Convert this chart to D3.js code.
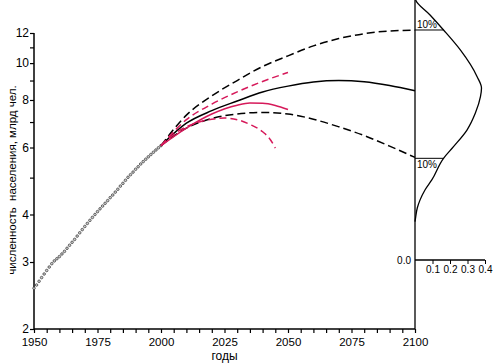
<!DOCTYPE html>
<html><head><meta charset="utf-8">
<script src="https://cdn.jsdelivr.net/npm/d3@7"></script>
<style>
body{margin:0;background:#fff;}
text{font-family:"Liberation Sans",Arial,sans-serif;fill:#000;}
</style></head>
<body><svg id="c" width="500" height="364"></svg>
<script>
// historical data 1950-2000 (billions)
const histYears = d3.range(1950, 2001);
const histValues = [2.56,2.61,2.67,2.73,2.79,2.85,2.91,2.97,3.02,3.06,3.10,3.15,3.20,3.26,3.32,3.38,3.44,3.51,3.58,3.65,3.72,3.79,3.86,3.93,4.00,4.07,4.14,4.21,4.28,4.35,4.43,4.50,4.58,4.66,4.75,4.83,4.92,5.01,5.09,5.17,5.26,5.34,5.43,5.51,5.59,5.67,5.75,5.83,5.91,5.99,6.07];

// black projections
const projYears = [2000,2010,2020,2030,2040,2050,2060,2070,2080,2090,2100];
const blackUpper = [6.07,7.3,8.2,9.0,9.8,10.45,11.1,11.6,11.95,12.15,12.2];
const blackMedian = [6.07,6.95,7.5,7.95,8.4,8.7,8.92,9.0,8.93,8.73,8.46];
const blackLower = [6.07,6.75,7.15,7.35,7.42,7.35,7.12,6.8,6.45,6.05,5.65];

// red projections
const redUpperYears = [2000,2010,2020,2030,2040,2050];
const redUpper = [6.07,7.1,7.8,8.4,8.95,9.45];
const redMedianYears = [2000,2010,2020,2030,2035,2040,2045,2050];
const redMedian = [6.07,6.75,7.35,7.75,7.85,7.84,7.74,7.55];
const redLowerYears = [2000,2005,2010,2015,2020,2025,2030,2035,2040,2043,2045];
const redLower = [6.07,6.5,6.8,7.0,7.12,7.17,7.1,6.9,6.6,6.3,5.98];

// density of 2100 population
const densPop = [15.0,14.65,13.38,12.22,10.83,9.21,8.60,8.16,7.39,6.67,6.03,5.62,4.93,4.64,4.37,4.16,3.94,3.83];
const densVal = [0.0,0.004,0.086,0.163,0.259,0.355,0.380,0.374,0.345,0.297,0.220,0.163,0.096,0.057,0.029,0.013,0.004,0.0];
const quantPop = [12.22, 5.62];
const quantDens = [0.163, 0.163];
const quantLabels = ["10%", "10%"];

const yTickVals = [2,3,4,5,6,7,8,9,10,11,12];
const yTickLabels = [2,3,4,6,8,10,12];
const xTickLabels = [1950,1975,2000,2025,2050,2075,2100];
const densTicks = [0.1,0.2,0.3,0.4];

const svg = d3.select("#c");
const x = d3.scaleLinear().domain([1950,2100]).range([34,415]);
const y = d3.scaleLog().domain([2,12]).range([329,33]);
const dx = d3.scaleLinear().domain([0,0.4]).range([415,485]);
const FF = "Liberation Sans";

// y axis
const yAxis = d3.axisLeft(y).tickValues(yTickVals).tickSize(4)
  .tickFormat(d => yTickLabels.includes(d) ? d : "");
const gy = svg.append("g").attr("transform","translate(34,0)").call(yAxis);
gy.select(".domain").attr("stroke","#000").attr("stroke-width",1.5).attr("d","M0,"+y(12)+"V"+y(2));
gy.selectAll(".tick line").attr("stroke-width",1.2);
gy.selectAll(".tick text").attr("font-size",12).attr("x",-5).attr("dy","0.32em").attr("font-family",FF);

// x axis
const gx = svg.append("g").attr("transform","translate(0,329)")
  .call(d3.axisBottom(x).tickValues(d3.range(1950,2101,5)).tickSize(4)
    .tickFormat(d => xTickLabels.includes(d) ? d : ""));
gx.select(".domain").attr("stroke-width",1.5).attr("d","M34,0H415");
gx.selectAll(".tick line").attr("stroke-width",1.2);
gx.selectAll(".tick text").attr("font-size",11.5).attr("y",9).attr("font-family",FF);

// right vertical line
svg.append("line").attr("x1",415).attr("x2",415).attr("y1",0).attr("y2",329)
  .attr("stroke","#000").attr("stroke-width",1.3);

// axis titles
svg.append("text").attr("x",224.5).attr("y",360).attr("text-anchor","middle")
  .attr("font-size",12).text("годы");
svg.append("text").attr("transform","translate(16,180) rotate(-90)")
  .attr("text-anchor","middle").attr("font-size",11.5).style("white-space","pre")
  .text("численность  населения, млрд чел.");

// historical dots
svg.append("g").selectAll("circle").data(histYears).join("circle")
  .attr("cx",(d)=>x(d)).attr("cy",(d,i)=>y(histValues[i])).attr("r",1.3)
  .attr("fill","#ccc").attr("stroke","#333").attr("stroke-width",0.7);

const line = (yrs, vals) => d3.line().curve(d3.curveMonotoneX)
  .x((d,i)=>x(yrs[i])).y(d=>y(d))(vals);

const red = "#d6195a";
function draw(yrs, vals, color, dash, w){
  svg.append("path").attr("d",line(yrs,vals)).attr("fill","none")
    .attr("stroke",color).attr("stroke-width",w).attr("stroke-dasharray",dash);
}
draw(projYears, blackUpper, "#000", "8,4", 1.5);
draw(projYears, blackMedian, "#000", null, 1.5);
draw(projYears, blackLower, "#000", "8,4", 1.5);
draw(redUpperYears, redUpper, red, "7,4", 1.5);
draw(redMedianYears, redMedian, red, null, 1.5);
draw(redLowerYears, redLower, red, "7,4", 1.5);

// density panel
svg.append("path").attr("fill","none").attr("stroke","#000").attr("stroke-width",1.3)
  .attr("d", d3.line().curve(d3.curveMonotoneY).x((d,i)=>dx(densVal[i])).y(d=>y(d))(densPop));
quantPop.forEach((p,i)=>{
  svg.append("line").attr("x1",dx(0)).attr("x2",dx(quantDens[i])).attr("y1",y(p)).attr("y2",y(p))
    .attr("stroke","#000").attr("stroke-width",1);
  svg.append("text").attr("x",dx(0)+2).attr("y", i===0 ? y(p)-1.5 : y(p)+9.5)
    .attr("font-size",10).text(quantLabels[i]);
});
const gd = svg.append("g").attr("transform","translate(0,260)")
  .call(d3.axisBottom(dx).tickValues(densTicks).tickSize(4).tickFormat(d3.format(".1f")));
gd.select(".domain").attr("stroke-width",1.3).attr("d","M415,0H485");
gd.selectAll(".tick text").attr("font-size",10).attr("y",6).attr("font-family",FF);
svg.append("text").attr("x",411).attr("y",263.5).attr("text-anchor","end")
  .attr("font-size",10).text("0.0");
</script></body></html>
